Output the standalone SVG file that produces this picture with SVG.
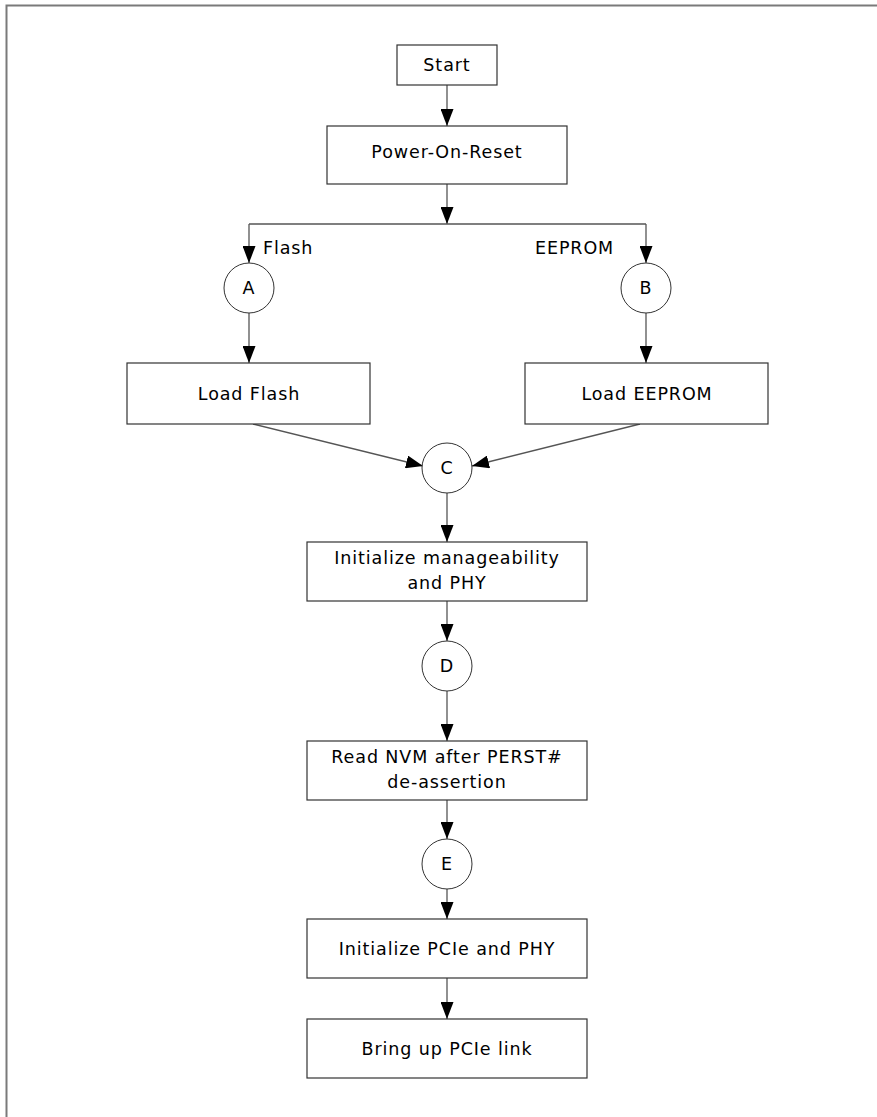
<svg xmlns="http://www.w3.org/2000/svg" width="877" height="1117" viewBox="0 0 877 1117">
<style>
  .box { fill: #ffffff; stroke: #333333; stroke-width: 1.2; }
  .circ { fill: #ffffff; stroke: #333333; stroke-width: 1; }
  .lbl { font-family: "DejaVu Sans", Verdana, sans-serif; font-size: 17.5px; letter-spacing: 0.9px; fill: #000000; text-anchor: middle; }
  .side { font-family: "DejaVu Sans", Verdana, sans-serif; font-size: 17.5px; letter-spacing: 0.9px; fill: #000000; }
  .conn { fill: none; stroke: #555555; stroke-width: 1.3; }
  .arr { marker-end: url(#ah); }
  .frame { fill: none; stroke: #7a7a7a; stroke-width: 2; }
</style>
<defs>
  <marker id="ah" markerUnits="userSpaceOnUse" markerWidth="17" markerHeight="13" refX="17" refY="6.5" orient="auto">
    <path d="M0,0 L17,6.5 L0,13 z" fill="#000000"/>
  </marker>
</defs>
<rect width="877" height="1117" fill="#ffffff"/>
<path class="frame" d="M6.5,1117 V5.5 H877"/>

<g id="connectors">
  <line class="conn arr" x1="447" y1="85" x2="447" y2="126"/>
  <line class="conn arr" x1="447" y1="184" x2="447" y2="224"/>
  <line class="conn" x1="249" y1="224" x2="646" y2="224"/>
  <line class="conn arr" x1="249" y1="224" x2="249" y2="263"/>
  <line class="conn arr" x1="646" y1="224" x2="646" y2="263"/>
  <line class="conn arr" x1="249" y1="313" x2="249" y2="363"/>
  <line class="conn arr" x1="646" y1="313" x2="646" y2="363"/>
  <line class="conn arr" x1="253" y1="424" x2="423" y2="466"/>
  <line class="conn arr" x1="640" y1="424" x2="472" y2="466"/>
  <line class="conn arr" x1="447" y1="493" x2="447" y2="542"/>
  <line class="conn arr" x1="447" y1="601" x2="447" y2="641"/>
  <line class="conn arr" x1="447" y1="691" x2="447" y2="741"/>
  <line class="conn arr" x1="447" y1="800" x2="447" y2="839"/>
  <line class="conn arr" x1="447" y1="889" x2="447" y2="919"/>
  <line class="conn arr" x1="447" y1="978" x2="447" y2="1019"/>
  <text class="side" x="263" y="254">Flash</text>
  <text class="side" x="535" y="254">EEPROM</text>
</g>

<g id="start">
  <rect class="box" x="397" y="45" width="100" height="40"/>
  <text class="lbl" x="447" y="71">Start</text>
</g>
<g id="por">
  <rect class="box" x="327" y="126" width="240" height="58"/>
  <text class="lbl" x="447" y="158">Power-On-Reset</text>
</g>
<g id="nodeA">
  <circle class="circ" cx="249" cy="288" r="25"/>
  <text class="lbl" x="249" y="294">A</text>
</g>
<g id="nodeB">
  <circle class="circ" cx="646" cy="288" r="25"/>
  <text class="lbl" x="646" y="294">B</text>
</g>
<g id="loadFlash">
  <rect class="box" x="127" y="363" width="243" height="61"/>
  <text class="lbl" x="249" y="400">Load Flash</text>
</g>
<g id="loadEeprom">
  <rect class="box" x="525" y="363" width="243" height="61"/>
  <text class="lbl" x="647" y="400">Load EEPROM</text>
</g>
<g id="nodeC">
  <circle class="circ" cx="447" cy="468" r="25"/>
  <text class="lbl" x="447" y="474">C</text>
</g>
<g id="initMgmt">
  <rect class="box" x="307" y="542" width="280" height="59"/>
  <text class="lbl" x="447" y="564">Initialize manageability</text>
  <text class="lbl" x="447" y="589">and PHY</text>
</g>
<g id="nodeD">
  <circle class="circ" cx="447" cy="666" r="25"/>
  <text class="lbl" x="447" y="672">D</text>
</g>
<g id="readNvm">
  <rect class="box" x="307" y="741" width="280" height="59"/>
  <text class="lbl" x="447" y="763">Read NVM after PERST#</text>
  <text class="lbl" x="447" y="788">de-assertion</text>
</g>
<g id="nodeE">
  <circle class="circ" cx="447" cy="864" r="25"/>
  <text class="lbl" x="447" y="870">E</text>
</g>
<g id="initPcie">
  <rect class="box" x="307" y="919" width="280" height="59"/>
  <text class="lbl" x="447" y="955">Initialize PCIe and PHY</text>
</g>
<g id="bringUp">
  <rect class="box" x="307" y="1019" width="280" height="59"/>
  <text class="lbl" x="447" y="1055">Bring up PCIe link</text>
</g>
</svg>
